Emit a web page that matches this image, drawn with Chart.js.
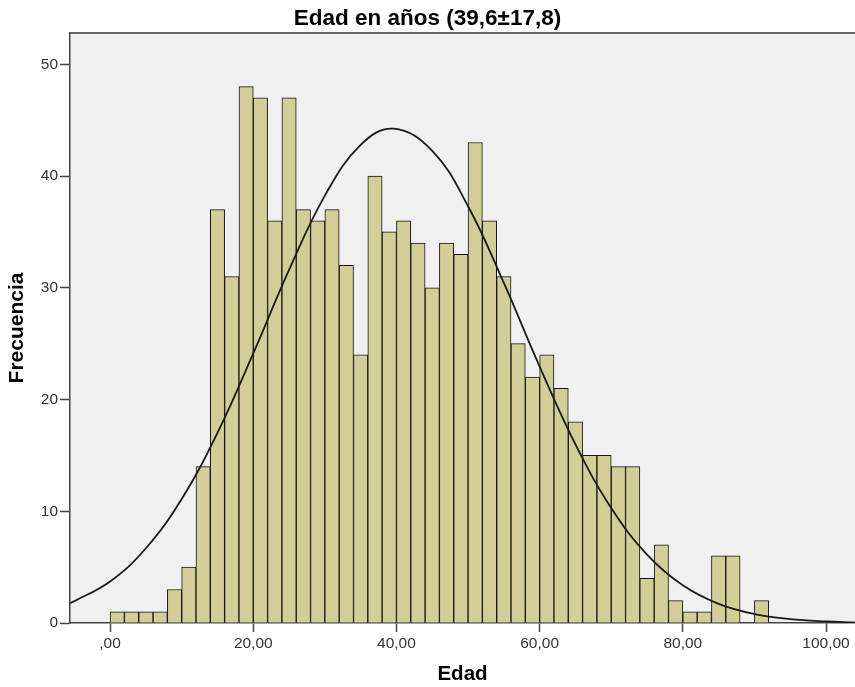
<!DOCTYPE html>
<html>
<head>
<meta charset="utf-8">
<title>Edad en años</title>
<script src="https://cdn.jsdelivr.net/npm/chart.js@4.4.1/dist/chart.umd.min.js"></script>
<style>
  html, body { margin: 0; padding: 0; background: #fff; }
</style>
</head>
<body>
<canvas id="histEdad" width="855" height="687"></canvas>
<script>
// start of each 2-year bin
var binStart = [0, 2, 4, 6, 8, 10, 12, 14, 16, 18, 20, 22, 24, 26, 28, 30, 32, 34, 36, 38, 40, 42, 44,
                46, 48, 50, 52, 54, 56, 58, 60, 62, 64, 66, 68, 70, 72, 74, 76, 78, 80, 82, 84, 86, 88, 90];
// frequency in each bin
var counts = [1, 1, 1, 1, 3, 5, 14, 37, 31, 48, 47, 36, 47, 37, 36, 37, 32, 24, 40, 35, 36, 34, 30,
              34, 33, 43, 36, 31, 25, 22, 24, 21, 18, 15, 15, 14, 14, 4, 7, 2, 1, 1, 6, 6, 0, 2];

// normal curve points
var curveX = [-5.6, 0, 5, 10, 15, 20, 25, 30, 35, 39.6, 45, 50, 55, 60, 65, 70, 75, 80, 85, 90, 95, 100, 104];
var curveY = [1.76, 3.72, 6.69, 11.1, 17.02, 24.13, 31.6, 38.25, 42.79, 44.24, 42.25, 37.3, 30.43, 22.94,
              15.98, 10.29, 6.12, 3.37, 1.71, 0.8, 0.35, 0.14, 0.06];

var xTickValues = [0, 20, 40, 60, 80, 100];
var xTickLabels = [',00', '20,00', '40,00', '60,00', '80,00', '100,00'];
var yTickValues = [0, 10, 20, 30, 40, 50];
var yTickLabels = ['0', '10', '20', '30', '40', '50'];

var fontFam = '"Liberation Sans", Arial, sans-serif';

// grey plot background + top frame line
var plotFrame = {
  id: 'plotFrame',
  beforeDraw: function (chart) {
    var a = chart.chartArea, c = chart.ctx;
    c.save();
    c.fillStyle = '#f0f0f0';
    c.fillRect(a.left, a.top, a.right - a.left, a.bottom - a.top);
    c.restore();
  },
  afterDraw: function (chart) {
    var a = chart.chartArea, c = chart.ctx;
    c.save();
    c.strokeStyle = '#666';
    c.lineWidth = 2;
    c.beginPath();
    c.moveTo(a.left, a.top);
    c.lineTo(a.right, a.top);
    c.stroke();
    c.restore();
  }
};

var barData = binStart.map(function (b, i) { return { x: b + 1, y: counts[i] }; });
var curveData = curveX.map(function (x, i) { return { x: x, y: curveY[i] }; });

var ctx = document.getElementById('histEdad').getContext('2d');
var chart = new Chart(ctx, {
  type: 'bar',
  data: {
    datasets: [{
      type: 'line',
      data: curveData,
      borderColor: '#1a1a1a',
      borderWidth: 1.8,
      pointRadius: 0,
      tension: 0.4,
      fill: false,
      order: 0
    }, {
      type: 'bar',
      data: barData,
      backgroundColor: '#d3ce97',
      borderColor: '#151515',
      borderWidth: 1,
      borderSkipped: 'bottom',
      barPercentage: 1,
      categoryPercentage: 1,
      order: 1
    }]
  },
  options: {
    responsive: false,
    animation: false,
    layout: { padding: 0 },
    plugins: {
      legend: { display: false },
      tooltip: { enabled: false },
      title: {
        display: true,
        text: 'Edad en años (39,6±17,8)',
        color: '#000',
        font: { family: fontFam, size: 22.5, weight: 'bold' },
        padding: { top: 5, bottom: 1 }
      }
    },
    scales: {
      x: {
        type: 'linear',
        min: -5.6,
        max: 104.05,
        offset: false,
        afterBuildTicks: function (s) {
          s.ticks = xTickValues.map(function (v) { return { value: v }; });
        },
        afterFit: function (s) { s.height = 64; },
        ticks: {
          autoSkip: false,
          maxRotation: 0,
          padding: 2,
          color: '#333',
          font: { family: fontFam, size: 15.5 },
          callback: function (v) { return xTickLabels[xTickValues.indexOf(v)]; }
        },
        grid: { offset: false, drawOnChartArea: false, drawTicks: true, tickLength: 9, color: '#444', tickWidth: 1.5 },
        border: { color: '#444', width: 1.5 },
        title: {
          display: true,
          text: 'Edad',
          color: '#000',
          font: { family: fontFam, size: 20.5, weight: 'bold' },
          padding: { top: 0, bottom: 0 }
        }
      },
      y: {
        type: 'linear',
        min: 0,
        max: 52.8,
        afterBuildTicks: function (s) {
          s.ticks = yTickValues.map(function (v) { return { value: v }; });
        },
        afterFit: function (s) { s.width = 70; },
        ticks: {
          padding: 2,
          color: '#333',
          font: { family: fontFam, size: 15.5 },
          callback: function (v) { return yTickLabels[yTickValues.indexOf(v)]; }
        },
        grid: { drawOnChartArea: false, drawTicks: true, tickLength: 10, color: '#444', tickWidth: 1.5 },
        border: { color: '#444', width: 1.5 },
        title: {
          display: true,
          text: 'Frecuencia',
          color: '#000',
          font: { family: fontFam, size: 21, weight: 'bold' },
          padding: { top: 5, bottom: 0 }
        }
      }
    }
  },
  plugins: [plotFrame]
});
</script>
</body>
</html>
